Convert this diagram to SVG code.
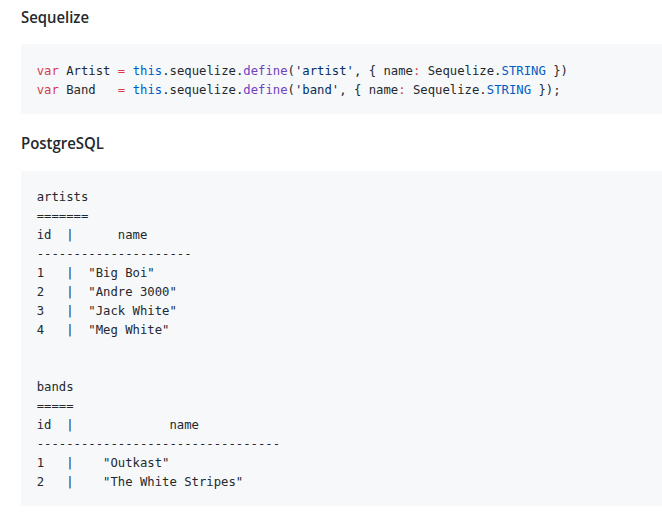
<svg xmlns="http://www.w3.org/2000/svg" width="662" height="521" viewBox="0 0 662 521">
<style>
.h{font-family:"Open Sans","Liberation Sans",sans-serif;font-weight:600;font-size:15.5px;fill:#24292e}
.c{font-family:"DejaVu Sans Mono","Liberation Mono",monospace;font-size:12.25px;fill:#24292e;white-space:pre}
.k{fill:#d73a49}
.b{fill:#005cc5}
.f{fill:#6f42c1}
.s{fill:#032f62}
.bg{fill:#f6f8fa}
</style>
<rect width="662" height="521" fill="#ffffff"/>
<g id="heading-sequelize"><text class="h" x="21" y="23" textLength="68" lengthAdjust="spacingAndGlyphs">Sequelize</text></g>
<g id="code-sequelize">
<rect class="bg" x="21" y="44" width="641" height="70"/>
<text class="c" x="36.7" y="75" xml:space="preserve"><tspan class="k">var</tspan> Artist <tspan class="k">=</tspan> <tspan class="b">this</tspan>.sequelize.<tspan class="f">define</tspan>(<tspan class="s">'artist'</tspan>, { name<tspan class="k">:</tspan> Sequelize.<tspan class="b">STRING</tspan> })</text>
<text class="c" x="36.7" y="93.5" xml:space="preserve"><tspan class="k">var</tspan> Band   <tspan class="k">=</tspan> <tspan class="b">this</tspan>.sequelize.<tspan class="f">define</tspan>(<tspan class="s">'band'</tspan>, { name<tspan class="k">:</tspan> Sequelize.<tspan class="b">STRING</tspan> });</text>
</g>
<g id="heading-postgresql"><text class="h" x="21" y="149" textLength="83" lengthAdjust="spacingAndGlyphs">PostgreSQL</text></g>
<g id="code-postgresql">
<rect class="bg" x="21" y="171" width="641" height="335"/>
<text class="c" x="36.7" y="201" xml:space="preserve">artists</text>
<text class="c" x="36.7" y="220" xml:space="preserve">=======</text>
<text class="c" x="36.7" y="239" xml:space="preserve">id  |      name</text>
<text class="c" x="36.7" y="258" xml:space="preserve">---------------------</text>
<text class="c" x="36.7" y="277" xml:space="preserve">1   |  "Big Boi"</text>
<text class="c" x="36.7" y="296" xml:space="preserve">2   |  "Andre 3000"</text>
<text class="c" x="36.7" y="315" xml:space="preserve">3   |  "Jack White"</text>
<text class="c" x="36.7" y="334" xml:space="preserve">4   |  "Meg White"</text>
<text class="c" x="36.7" y="391" xml:space="preserve">bands</text>
<text class="c" x="36.7" y="410" xml:space="preserve">=====</text>
<text class="c" x="36.7" y="429" xml:space="preserve">id  |             name</text>
<text class="c" x="36.7" y="448" xml:space="preserve">---------------------------------</text>
<text class="c" x="36.7" y="467" xml:space="preserve">1   |    "Outkast"</text>
<text class="c" x="36.7" y="486" xml:space="preserve">2   |    "The White Stripes"</text>
</g>
</svg>
